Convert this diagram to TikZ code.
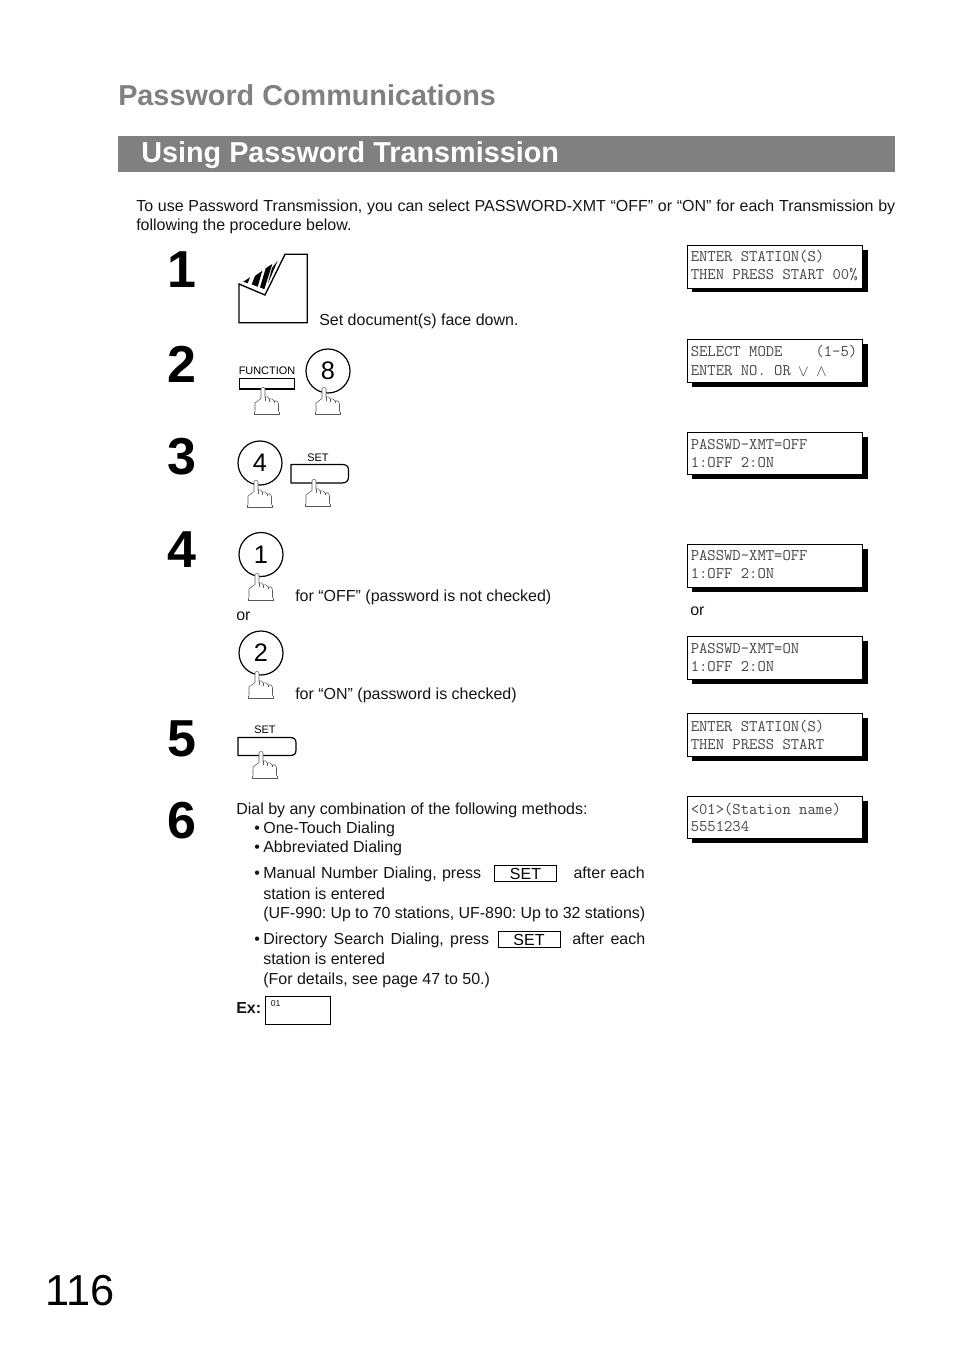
\documentclass[tikz,border=0pt]{standalone}
\usepackage{fontspec}
\setmainfont{Liberation Sans}
\usepackage{tikz}
\definecolor{bandclr}  {RGB}{128, 128, 128}
\definecolor{lcdclr}   {RGB}{70,  70,  70}
\definecolor{handclr}  {RGB}{90,  90,  90}
\definecolor{bodyclr}  {RGB}{20,  20,  20}
\newcommand{\fsize}[1]{\fontsize{#1}{#1}\selectfont}
\frenchspacing
\tikzset{
  bodytext/.style={anchor=base west, inner sep=0pt, text=bodyclr, font=\fsize{12}\frenchspacing},
  stepnum/.style={anchor=base west, inner sep=0pt, font=\fsize{39}\bfseries},
  lcdtext/.style={anchor=base west, inner sep=0pt, text=lcdclr, font=\ttfamily\fsize{12.15}},
  keylabel/.style={anchor=base, inner sep=0pt, font=\fsize{8.2}},
  keydigit/.style={anchor=center, inner sep=0pt, font=\fsize{19}},
  keyring/.style={circle, draw, line width=0.9pt, minimum size=33pt, inner sep=0pt, outer sep=0pt, fill=white},
  setbox/.style={draw, line width=0.6pt, fill=white, minimum width=47pt, minimum height=12pt, inner sep=0pt, font=\fsize{12}},
  lcdmark/.style={anchor=center, inner sep=0pt, text=lcdclr, font=\fsize{12.5}}
}
% display box: name, top, bottom
\newcommand{\lcd}[3]{
  \fill[black] (692,#2+5) rectangle (867.5,#3+4.5);
  \node[draw, fill=white, line width=0.8pt, inner sep=0pt, outer sep=0pt, minimum width=131.25pt,
    minimum height=(#3-#2)*0.75pt, anchor=north west] (#1) at (687.5,#2+0.5) {};
}
% pressing finger, tip at x,y
\newcommand{\finger}[2]{
  \begin{scope}[shift={(#1,#2)}, handclr, line width=0.4pt]
    \fill[white] (0,11) -- (0,0) -- (4,0) -- (4,9) -- (17.5,13) -- (17.5,24) -- (-6,24) -- (-6,15) -- cycle;
    \draw (-6,23.5) -- (-6,15) -- (0,10.5) -- (0,1) .. controls (0,-1) and (4,-1) .. (4,1) -- (4,9)
      .. controls (6,8) and (8,9) .. (8,11) .. controls (10,10) and (12,11) .. (13,13)
      .. controls (15,12) and (17,13) .. (17.5,16) -- (17.5,23.5);
    \draw (4,9) -- (4,13) (8,11) -- (8,14) (13,13) -- (13,15);
    \draw (-7,24) -- (-7,26) -- (18.5,26) -- (18.5,24);
  \end{scope}
}
\begin{document}
\begin{tikzpicture}[x=0.75pt, y=-0.75pt]
  \useasboundingbox (0,0) rectangle (954,1351);
  % heading
  \node[anchor=base west, inner sep=0pt, text=bandclr, font=\fsize{21.6}\bfseries] (title) at (118,106) {Password Communications};
  \fill[bandclr] (118,136) rectangle (895,172);
  \node[anchor=base west, inner sep=0pt, text=white, font=\fsize{21.6}\bfseries] (subtitle) at (141,163) {Using Password Transmission};
  % intro
  \node[bodytext] (introa) at (136,212) {\makebox[569.25pt][s]{To use Password Transmission, you can select PASSWORD-XMT “OFF” or “ON” for each Transmission by}};
  \node[bodytext] (introb) at (136,230.5) {following the procedure below.};
  % step numbers
  \node[stepnum] (numa) at (167.5,288) {1};
  \node[stepnum] (numb) at (167.5,382.5) {2};
  \node[stepnum] (numc) at (167.5,474.5) {3};
  \node[stepnum] (numd) at (167.5,567) {4};
  \node[stepnum] (nume) at (167.5,756) {5};
  \node[stepnum] (numf) at (167.5,838) {6};
  % document
  \draw[line width=1pt] (239,284) -- (239,322.7) -- (307.3,322.7) -- (307.3,254.3) -- (285,254.3) -- (265,295) -- cycle;
  \fill (243.3,281.7) -- (250,277.3) -- (247.7,283.3) -- cycle;
  \fill (251.7,284.3) -- (255,276) -- (262.3,270.7) -- (257.7,286.7) -- cycle;
  \fill (260,287.3) -- (265.7,268.3) -- (272.3,264) -- (264.3,289.3) -- cycle;
  \fill (268,283) -- (272,268) -- (277.7,260.7) -- (269,281) -- cycle;
  \node[bodytext] (setdoc) at (319,325.5) {Set document(s) face down.};
  % step 2 keys
  \node[keylabel] (funclbl) at (267,375) {FUNCTION};
  \draw[line width=0.7pt] (239,378.5) rectangle (294.5,388.5);
  \draw[line width=1.2pt] (239,389) -- (294.5,389);
  \finger{261}{388}
  \node[keyring] (ringe) at (328,371) {};
  \node[keydigit] (digite) at (328,371) {8};
  \finger{322}{388}
  % step 3 keys
  \node[keyring] (ringf) at (260,463) {};
  \node[keydigit] (digitf) at (260,463) {4};
  \finger{254}{481}
  \node[keylabel] (setlbla) at (318,461) {SET};
  \draw[line width=0.9pt] (291,464.5) -- (342,464.5) .. controls (346,464.5) and (348.5,466) .. (348.5,470)
    -- (348.5,477) .. controls (348.5,481) and (346,483) .. (342,483) -- (291,483) -- cycle;
  \finger{312}{480}
  % step 4 keys
  \node[keyring] (ringg) at (261,554.5) {};
  \node[keydigit] (digitg) at (261,555) {1};
  \finger{255}{574}
  \node[bodytext] (offtxt) at (295,601) {for “OFF” (password is not checked)};
  \node[bodytext] (ora) at (236,620) {or};
  \node[keyring] (ringh) at (261,653) {};
  \node[keydigit] (digith) at (261,653) {2};
  \finger{255}{672}
  \node[bodytext] (ontxt) at (295,699) {for “ON” (password is checked)};
  % step 5 key
  \node[keylabel] (setlblb) at (265,733) {SET};
  \draw[line width=0.9pt] (238,737.5) -- (290,737.5) .. controls (294,737.5) and (296,739) .. (296,743)
    -- (296,750) .. controls (296,754) and (294,755.5) .. (290,755.5) -- (238,755.5) -- cycle;
  \finger{259}{752}
  % step 6 text
  \node[bodytext] (diala) at (236,814) {Dial by any combination of the following methods:};
  \node[bodytext] (dialb) at (254,833) {•\kern2.6pt One-Touch Dialing};
  \node[bodytext] (dialc) at (254,852) {•\kern2.6pt Abbreviated Dialing};
  \node[bodytext] (diald) at (254,878) {\makebox[170.25pt][s]{•\kern2.6pt Manual Number Dialing, press}};
  \node[setbox] (setboxa) at (525.5,873) {};
  \node[anchor=base, inner sep=0pt, font=\fsize{12}] (setwa) at (525.5,879) {SET};
  \node[bodytext, anchor=base east] (dialda) at (645,878) {after each};
  \node[bodytext] (diale) at (263,899) {station is entered};
  \node[bodytext] (dialf) at (263,918) {\makebox[286.5pt][s]{(UF-990: Up to 70 stations, UF-890: Up to 32 stations)}};
  \node[bodytext] (dialg) at (254,944) {\makebox[176.25pt][s]{•\kern2.6pt Directory Search Dialing, press}};
  \node[setbox] (setboxb) at (529.5,939) {};
  \node[anchor=base, inner sep=0pt, font=\fsize{12}] (setwb) at (529,945) {SET};
  \node[bodytext] (dialga) at (572,944) {\makebox[54.75pt][s]{after each}};
  \node[bodytext] (dialh) at (263,964) {station is entered};
  \node[bodytext] (diali) at (263,984) {(For details, see page 47 to 50.)};
  \node[bodytext, font=\fsize{12}\bfseries] (extxt) at (236,1013) {Ex:};
  \draw[line width=0.6pt] (265.5,996.5) rectangle (330.5,1024.5);
  \node[bodytext, font=\fsize{6.5}] (exnum) at (270.5,1006) {01};
  % displays
  \lcd{lcda}{245}{288}
  \node[lcdtext] at (690.5,262) {ENTER STATION(S)};
  \node[lcdtext] at (690.5,280) {THEN PRESS START 00\%};
  \lcd{lcdb}{339}{382}
  \node[lcdtext] at (690.5,357) {SELECT MODE};
  \node[lcdtext, anchor=base east] at (857.5,357) {(1-5)};
  \node[lcdtext] at (690.5,376) {ENTER NO. OR};
  \node[lcdmark] (downkey) at (803.5,372) {$\vee$};
  \node[lcdmark] (upkey) at (821.5,372) {$\wedge$};
  \lcd{lcdc}{432}{474}
  \node[lcdtext] at (690.5,449) {PASSWD-XMT=OFF};
  \node[lcdtext] at (690.5,467) {1:OFF 2:ON};
  \lcd{lcdd}{544}{587}
  \node[lcdtext] at (690.5,560) {PASSWD-XMT=OFF};
  \node[lcdtext] at (690.5,578) {1:OFF 2:ON};
  \node[bodytext] (orb) at (690,615) {or};
  \lcd{lcde}{636}{679}
  \node[lcdtext] at (690.5,653) {PASSWD-XMT=ON};
  \node[lcdtext] at (690.5,671) {1:OFF 2:ON};
  \lcd{lcdf}{713}{756}
  \node[lcdtext] at (690.5,731) {ENTER STATION(S)};
  \node[lcdtext] at (690.5,749) {THEN PRESS START};
  \lcd{lcdg}{796}{838}
  \node[lcdtext] at (690.5,814) {<01>(Station name)};
  \node[lcdtext] at (690.5,831) {5551234};
  % page number
  \node[anchor=base west, inner sep=0pt, font=\fsize{32.5}] (pageno) at (45,1305.5) {116};
\end{tikzpicture}
\end{document}
